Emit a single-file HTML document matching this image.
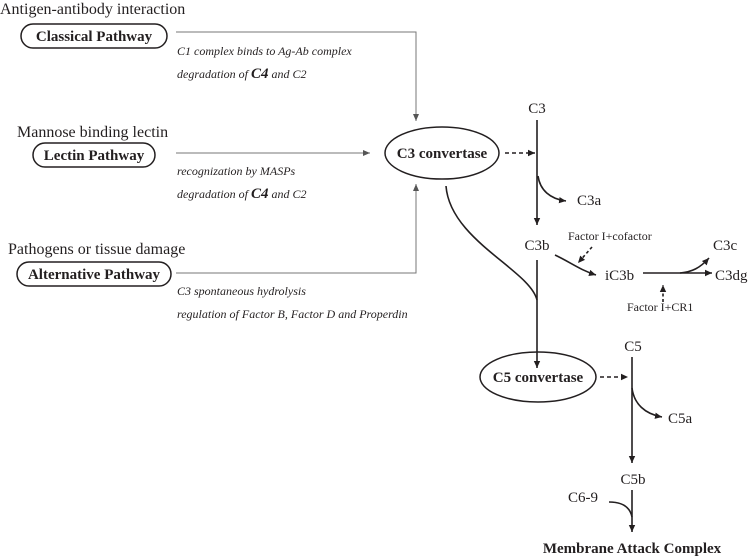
<!DOCTYPE html>
<html><head><meta charset="utf-8"><style>
html,body{margin:0;padding:0;background:#fff;}
svg{display:block;font-family:"Liberation Serif",serif;}
</style></head><body>
<svg width="750" height="558" viewBox="0 0 750 558" xmlns="http://www.w3.org/2000/svg">
<defs>
<marker id="a" markerWidth="8" markerHeight="8" refX="7" refY="4" orient="auto" markerUnits="userSpaceOnUse">
<path d="M0,0.8 L7,4 L0,7.2 z" fill="#231f20"/></marker>
<marker id="g" markerWidth="8" markerHeight="8" refX="7" refY="4" orient="auto" markerUnits="userSpaceOnUse">
<path d="M0,1 L7,4 L0,7 z" fill="#555"/></marker>
</defs>
<g fill="#231f20">
<text x="0" y="14" font-size="16">Antigen-antibody interaction</text>
<text x="17" y="137" font-size="16">Mannose binding lectin</text>
<text x="8" y="254" font-size="16">Pathogens or tissue damage</text>
</g>
<g fill="none" stroke="#231f20" stroke-width="1.5">
<rect x="21" y="24" width="146" height="24" rx="12"/>
<rect x="33" y="143" width="122" height="24" rx="12"/>
<rect x="17" y="262" width="154" height="24" rx="12"/>
<ellipse cx="442" cy="153" rx="57" ry="26"/>
<ellipse cx="538" cy="377" rx="58" ry="25"/>
</g>
<g fill="#231f20" font-weight="bold" font-size="15" text-anchor="middle">
<text x="94" y="41">Classical Pathway</text>
<text x="94" y="160">Lectin Pathway</text>
<text x="94" y="279">Alternative Pathway</text>
<text x="442" y="158">C3 convertase</text>
<text x="538" y="382">C5 convertase</text>
<text x="632" y="553">Membrane Attack Complex</text>
</g>
<g fill="#231f20" font-style="italic" font-size="12">
<text x="177" y="55">C1 complex binds to Ag-Ab complex</text>
<text x="177" y="78">degradation of <tspan font-weight="bold" font-size="15">C4</tspan> and C2</text>
<text x="177" y="175">recognization by MASPs</text>
<text x="177" y="198">degradation of <tspan font-weight="bold" font-size="15">C4</tspan> and C2</text>
<text x="177" y="295">C3 spontaneous hydrolysis</text>
<text x="177" y="318">regulation of Factor B, Factor D and Properdin</text>
</g>
<g fill="none" stroke="#777" stroke-width="1">
<path d="M176,32 H416 V121" marker-end="url(#g)"/>
<path d="M176,153 H370" marker-end="url(#g)"/>
<path d="M176,273 H416 V184" marker-end="url(#g)"/>
</g>
<g fill="none" stroke="#231f20" stroke-width="1.6">
<path d="M505,153 H535" stroke-dasharray="4,3" marker-end="url(#a)"/>
<path d="M537,120 V225" marker-end="url(#a)"/>
<path d="M538,176 C540,190 550,199 566,201" marker-end="url(#a)"/>
<path d="M446,186 C450,240 530,270 537,300"/>
<path d="M537,260 V368" marker-end="url(#a)"/>
<path d="M555,255 C570,262 580,270 596,275" marker-end="url(#a)"/>
<path d="M592,247 L578,263" stroke-dasharray="3,2.5" marker-end="url(#a)"/>
<path d="M643,273 H712" marker-end="url(#a)"/>
<path d="M680,273 C692,272 700,268 709,258" marker-end="url(#a)"/>
<path d="M663,302 V285" stroke-dasharray="3,2.5" marker-end="url(#a)"/>
<path d="M600,377 H628" stroke-dasharray="4,3" marker-end="url(#a)"/>
<path d="M632,357 V463" marker-end="url(#a)"/>
<path d="M632,388 C634,404 645,414 662,417" marker-end="url(#a)"/>
<path d="M632,490 V532" marker-end="url(#a)"/>
<path d="M609,502 C622,502 630,507 632,517"/>
</g>
<g fill="#231f20" font-size="15">
<text x="537" y="113" text-anchor="middle">C3</text>
<text x="577" y="205">C3a</text>
<text x="537" y="250" text-anchor="middle">C3b</text>
<text x="605" y="280">iC3b</text>
<text x="713" y="250">C3c</text>
<text x="715" y="280">C3dg</text>
<text x="633" y="351" text-anchor="middle">C5</text>
<text x="668" y="423">C5a</text>
<text x="633" y="484" text-anchor="middle">C5b</text>
<text x="568" y="502">C6-9</text>
<text x="568" y="240" font-size="12">Factor I+cofactor</text>
<text x="627" y="311" font-size="12">Factor I+CR1</text>
</g>
</svg>
</body></html>
